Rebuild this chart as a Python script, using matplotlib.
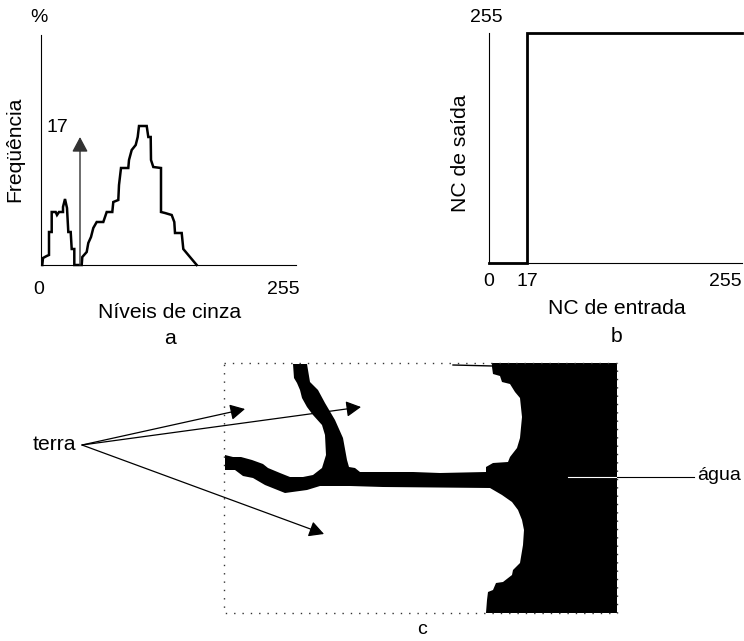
import matplotlib
matplotlib.use("Agg")
import matplotlib.pyplot as plt

plt.rcParams['font.family'] = ['Liberation Sans', 'DejaVu Sans']

# panel a: histogram
hist_levels = [1.3, 2, 5.7, 8, 8, 10.7, 10.7, 14.7, 16, 18, 22, 22, 24, 26, 27.3, 29.7, 30.7, 33.3,
               33.3, 40.7, 41.3, 45.7, 47.3, 50, 52.3, 55.7, 62.3, 65.7, 71.3, 72.3, 77.3, 78, 80,
               87.3, 88, 90.7, 94.7, 96.7, 98, 105.7, 107.3, 109.7, 110, 112.3, 120, 120, 124,
               130.7, 133.3, 134, 140.7, 142.3, 147.3, 155.7]
hist_freq = [0, 7, 9, 10, 33, 33, 53, 53, 50, 53, 53, 58, 66, 57, 33, 33, 16, 16,
             0, 0, 8, 13, 22, 28, 37, 43, 43, 53, 53, 63, 65, 80, 97,
             97, 105, 115, 120, 128, 139, 139, 128, 128, 105, 98, 97, 53, 52,
             50, 43, 32, 32, 16, 10, 0]
thresh_pos = 39   # drawn position of the "17" threshold in panel a
thresh_top = 128

# panel b: step transfer function
lut_in = [0, 38, 38, 253]
lut_out = [0, 0, 255, 255]

# panel c: water outline, page pixels
water_x = [492, 617, 617, 486, 487, 488, 493, 496, 503, 512, 513, 520, 523, 524, 522, 518, 512, 502, 490,
           383, 350, 320, 307, 285, 265, 253, 243, 235, 225, 225, 233, 241, 252, 263, 268, 280, 290,
           303, 313, 322, 326, 325, 322, 313, 307, 302, 300, 297, 294, 293,
           307, 310, 318, 325, 335, 343, 347, 349, 355, 360, 413, 440, 486, 486, 493, 508, 510, 517,
           520, 522, 520, 515, 510, 502, 500, 493, 492]
water_y = [363, 363, 613, 613, 600, 592, 590, 583, 582, 575, 570, 563, 545, 530, 520, 510, 502, 495, 488,
           487, 486, 486, 490, 493, 485, 478, 476, 470, 470, 455, 457, 457, 460, 464, 468, 473, 477,
           477, 475, 468, 455, 435, 425, 415, 407, 398, 390, 383, 378, 364,
           364, 382, 390, 403, 420, 438, 460, 467, 468, 472, 472, 473, 472, 467, 463, 462, 457, 448,
           438, 417, 398, 392, 384, 382, 376, 374, 367]
arrow_start = (82, 445)
arrow_tips = [(245, 409), (361, 407), (324, 534)]

fig = plt.figure(figsize=(7.44, 6.41), dpi=100)
W, H = 744, 641
head = '-|>,head_length=0.45,head_width=0.24'


def panel(left, top, right, bottom):
    ax = fig.add_axes([left / W, 1 - bottom / H, (right - left) / W, (bottom - top) / H])
    ax.spines['top'].set_visible(False)
    ax.spines['right'].set_visible(False)
    ax.set_xticks([])
    ax.set_yticks([])
    ax.patch.set_alpha(0)
    return ax


ax_a = panel(41, 35, 296, 265)
ax_a.set_xlim(0, 255)
ax_a.set_ylim(0, 230)
ax_a.plot(hist_levels, hist_freq, color='black', lw=1.8, solid_joinstyle='miter', clip_on=False)
ax_a.annotate('', xy=(thresh_pos, thresh_top), xytext=(thresh_pos, 0),
              arrowprops=dict(arrowstyle=head, color='#333333', lw=1, mutation_scale=20,
                              shrinkA=0, shrinkB=0))

ax_b = panel(489, 33, 742, 263)
ax_b.set_xlim(0, 253)
ax_b.set_ylim(0, 255)
ax_b.plot(lut_in, lut_out, color='black', lw=2, solid_joinstyle='miter', clip_on=False)

# page axes in pixels for the text and the map
page = fig.add_axes([0, 0, 1, 1])
page.set_xlim(0, W)
page.set_ylim(H, 0)
page.axis('off')
page.patch.set_alpha(0)

page.plot([224, 617, 617, 224, 224], [363, 363, 613, 613, 363], color='#333333', lw=1,
          ls=(0, (1, 5)))
page.fill(water_x, water_y, color='black', lw=0)
page.plot([453, 493], [365, 366], color='black', lw=1)
page.plot([568, 617], [476.5, 476.5], color='white', lw=0.8)
page.plot([617, 694], [476.5, 476.5], color='black', lw=0.8)
for tip in arrow_tips:
    page.annotate('', xy=tip, xytext=arrow_start,
                  arrowprops=dict(arrowstyle=head, color='black', lw=0.9, mutation_scale=20,
                                  shrinkA=0, shrinkB=0))

numbers = [('%', 39, 18, 0), ('17', 57, 128, 0), ('0', 39, 289, 0), ('255', 283, 289, 0),
           ('255', 486, 17, 0), ('0', 489, 281, 0), ('17', 527, 281, 0), ('255', 725, 281, 0)]
words = [('Freqüência', 15, 149, 90), ('Níveis de cinza', 170, 312, 0), ('a', 170, 338, 0),
         ('NC de saída', 461, 153, 90), ('NC de entrada', 617, 309, 0), ('b', 617, 336, 0),
         ('terra', 54, 445, 0)]
for txt, x, y, rot in numbers:
    page.text(x, y, txt, ha='center', va='center', rotation=rot, fontsize=14, color='black')
for txt, x, y, rot in words:
    page.text(x, y, txt, ha='center', va='center', rotation=rot, fontsize=15.2, color='black')
page.text(422, 630, 'c', ha='center', va='center', fontsize=14, color='black')
page.text(741, 476, 'água', ha='right', va='center', fontsize=14, color='black')

fig.savefig('out.png', dpi=100)
